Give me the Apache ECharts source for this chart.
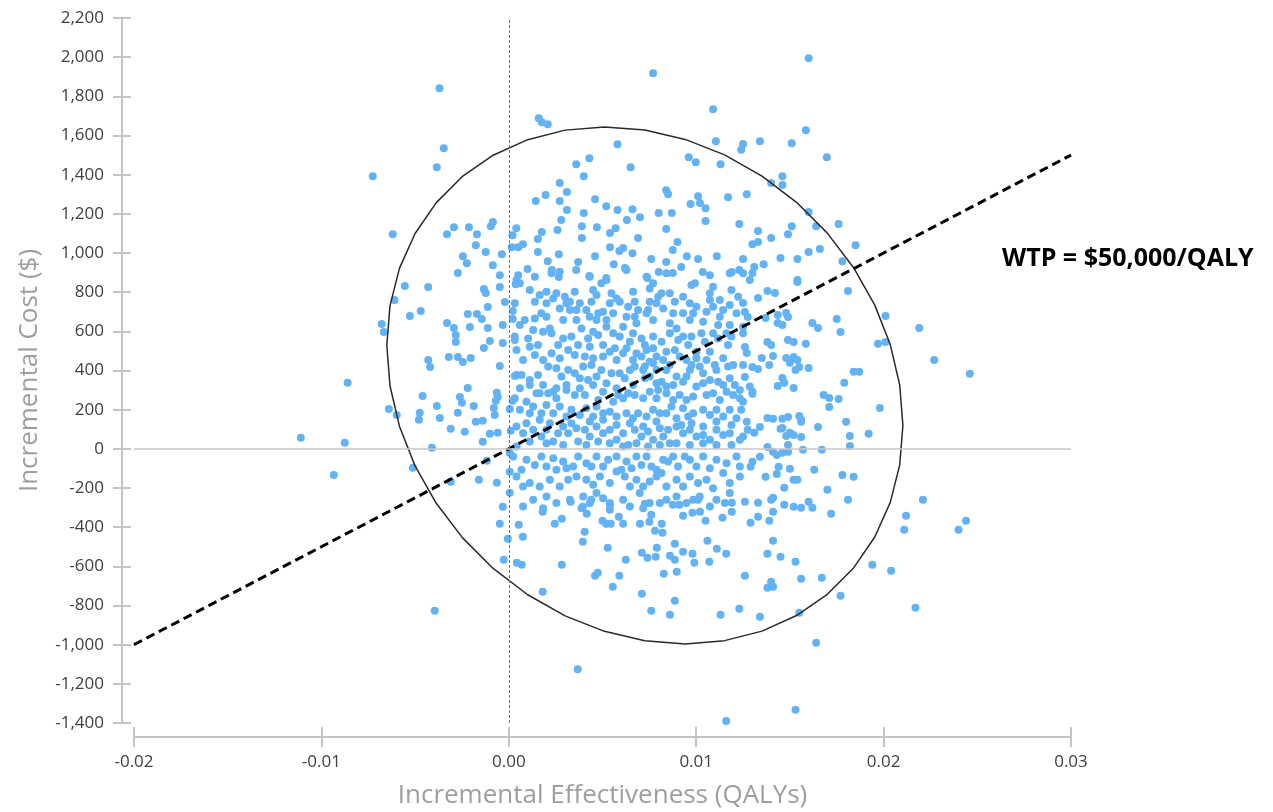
<!DOCTYPE html>
<html>
<head>
<meta charset="utf-8">
<title>Cost-effectiveness plane</title>
<script src="https://cdn.jsdelivr.net/npm/echarts@6/dist/echarts.min.js"></script>
<style>
    html, body { margin: 0; padding: 0; background: #fff; }
    #chart { width: 1273px; height: 812px; }
</style>
</head>
<body>
<div id="chart"></div>
<script>
// Axis ranges and ticks
var effMin = -0.02, effMax = 0.03, effStep = 0.01;
var costMin = -1400, costMax = 2200, costStep = 200;

// Willingness-to-pay line ends [effectiveness, cost]
var wtpLine = [[-0.02, -1000], [0.03, 1500]];
var wtpLabel = 'WTP = $50,000/QALY';

// Confidence ellipse: centre, half-widths, correlation
var ellipseCenter = [0.00726, 324];
var ellipseRadius = [0.01377, 1320];
var ellipseCorr = -0.155;
var ellipseSteps = 40;

// Simulated pairs [incremental effectiveness, incremental cost], by region
var upperPoints = [
    [0.0160, 1994], [0.0077, 1918], [-0.0037, 1841], [0.0109, 1734], [0.0016, 1688], [0.00176, 1668],
    [0.00208, 1658], [0.01585, 1627], [0.0134, 1571], [0.0125, 1556], [0.0124, 1527], [0.0151, 1561],
    [0.01697, 1489], [0.01105, 1571], [0.0096, 1489], [0.00998, 1464], [0.0113, 1453], [0.0058, 1555],
    [0.0043, 1484], [0.0036, 1453], [0.0040, 1392], [0.0065, 1438], [0.00272, 1357], [0.0031, 1311],
    [0.00197, 1296], [0.00144, 1265], [0.00272, 1265], [0.0031, 1219], [0.0046, 1275], [0.0052, 1239],
    [0.0058, 1219], [0.0066, 1224], [0.0070, 1183], [0.0040, 1204], [0.0084, 1321], [0.0085, 1300],
    [0.0080, 1204], [0.0087, 1204], [0.0097, 1250], [0.0101, 1290], [0.0102, 1255], [0.0105, 1229],
    [0.0105, 1163], [0.0117, 1285], [0.0127, 1300], [0.0123, 1148], [0.0028, 1168], [0.0026, 1117],
    [0.0039, 1137], [0.0047, 1132], [0.0054, 1102], [0.0057, 1127], [0.0063, 1168], [0.0069, 1076],
    [0.0039, 1076], [0.0004, 1127], [0.0002, 1091], [0.00176, 1107], [0.00155, 1071], [0.00075, 1045],
    [0.00155, 1005], [0.00267, 994], [0.00208, 958], [0.0010, 918], [0.0005, 887], [0.0023, 913],
    [0.0037, 954], [0.0036, 913], [0.0046, 984], [0.0054, 1030], [0.0059, 1010], [0.0061, 1025],
    [0.0066, 999], [0.0056, 943], [0.0062, 923], [0.0076, 969], [0.00875, 1015], [0.0090, 1056],
    [0.0084, 1122], [0.0095, 984], [0.0101, 969], [0.0111, 984], [0.0125, 969], [0.0123, 913],
    [0.0119, 903], [0.01035, 903], [0.0092, 928], [0.0084, 954], [0.0080, 903], [0.00875, 898],
    [0.0074, 872], [0.0043, 882], [0.0052, 872], [0.00267, 877],
    [0.0146, 1392], [0.0140, 1357], [0.0146, 1347], [0.0160, 1209], [0.0151, 1137], [0.0164, 1137],
    [0.0176, 1148], [0.0133, 1112], [0.0149, 1096], [0.0140, 1076], [0.0133, 1056], [0.0130, 1045],
    [0.0185, 1040], [0.0166, 1020], [0.0160, 1005], [0.0145, 974], [0.0154, 969], [0.0136, 943],
    [0.0131, 928], [0.0178, 958], [0.0154, 862], [0.0130, 898]
];

var leftPoints = [
    [-0.00347, 1535], [-0.00384, 1438], [-0.00726, 1392], [-0.00619, 1096], [-0.00293, 1132], [-0.00213, 1132],
    [-0.0033, 1096], [-0.0017, 1096], [-0.00085, 1158], [-0.00096, 1137], [-0.00176, 1040], [-0.00123, 1005],
    [-0.00245, 984], [-0.00224, 948], [-0.00085, 938], [-0.00037, 994], [-0.00272, 898], [-0.00048, 887],
    [0.00016, 1030], [0.0005, 1030], [0.00037, 841], [-0.00555, 831], [-0.0043, 826], [-0.0061, 760],
    [-0.00133, 816], [-0.00123, 796], [-0.00048, 826], [-0.00021, 750], [-0.00528, 678], [-0.0047, 704],
    [-0.00678, 638], [-0.00667, 597], [-0.0033, 643], [-0.00293, 617], [-0.00283, 581], [-0.00283, 546],
    [-0.00219, 689], [-0.0017, 689], [-0.00144, 663], [-0.00208, 622], [-0.00112, 724], [-0.00112, 617],
    [-0.00101, 551], [-0.00133, 515], [-0.00032, 632], [0.00021, 663], [0.00021, 704], [-0.00032, 541],
    [0.00032, 556], [-0.0043, 454], [-0.0042, 418], [-0.0032, 469], [-0.00272, 469], [-0.00245, 444],
    [-0.00203, 464], [-0.00048, 423], [0.00032, 372], [-0.0086, 337], [-0.00219, 311], [-0.00261, 265],
    [-0.0025, 235], [-0.0046, 270], [-0.00384, 219], [-0.00187, 219], [-0.00064, 286], [-0.00059, 265],
    [-0.00069, 245], [-0.0008, 209], [-0.00075, 173], [0.00021, 245], [0.00005, 204], [-0.0064, 204],
    [-0.00598, 173], [-0.00475, 184], [-0.0048, 148], [-0.00368, 158], [-0.00272, 184], [-0.0031, 102],
    [-0.00235, 87], [-0.00176, 138], [-0.00139, 143], [-0.00101, 77], [-0.00059, 82], [-0.00139, 36],
    [0.0001, 92], [-0.0111, 56], [-0.00875, 31], [-0.0041, 5], [-0.00934, -133], [-0.00512, -97],
    [-0.00117, -61], [-0.0016, -158], [-0.00064, -173], [-0.0031, -168], [0.00005, -20], [0.00005, -117],
    [0.00005, -224], [-0.00032, -296], [-0.00048, -383], [-0.00005, -459], [-0.00027, -566], [0.00043, -582],
    [0.00053, -388], [-0.00395, -827]
];

var lowerPoints = [
    [0.00181, -321], [0.0033, -270], [0.00395, -296], [0.00416, -332], [0.0044, -260], [0.0054, -286],
    [0.00075, -449], [0.00245, -383], [0.00283, -357], [0.00405, -423], [0.00395, -474], [0.0050, -367],
    [0.0052, -383], [0.00544, -383], [0.00587, -347], [0.0061, -383], [0.00528, -505], [0.0070, -383],
    [0.00726, -281], [0.0076, -337], [0.0075, -372], [0.0078, -418], [0.00816, -383], [0.0082, -429],
    [0.0071, -530], [0.0074, -556], [0.0079, -505], [0.00784, -551], [0.0086, -546], [0.00886, -485],
    [0.00886, -566], [0.0093, -525], [0.0098, -536], [0.0099, -582], [0.0107, -576], [0.0111, -510],
    [0.0116, -536], [0.0106, -469], [0.00875, -286], [0.0091, -286], [0.0093, -342], [0.0098, -327],
    [0.0102, -321], [0.0105, -367], [0.0101, -260], [0.0114, -352], [0.0119, -321], [0.0119, -275],
    [0.00069, -592], [0.00283, -592], [0.00181, -730], [0.0046, -648], [0.00475, -633], [0.00555, -704],
    [0.0059, -648], [0.00624, -566], [0.0071, -740], [0.00827, -638], [0.00896, -628], [0.0076, -827],
    [0.0086, -847], [0.00886, -776], [0.0113, -847], [0.0123, -816], [0.0126, -648], [0.00368, -1125],
    [0.0116, -1390], [0.0126, -270], [0.0133, -275], [0.0140, -260], [0.0147, -286], [0.0152, -296],
    [0.0156, -301], [0.0160, -270], [0.0162, -301], [0.0141, -321], [0.0133, -347], [0.0129, -378],
    [0.0139, -367], [0.0172, -332], [0.0181, -260], [0.0221, -260], [0.0212, -342], [0.0211, -413],
    [0.0244, -367], [0.0240, -413], [0.0141, -469], [0.0138, -536], [0.0145, -551], [0.0153, -576],
    [0.0138, -709], [0.0140, -679], [0.0141, -704], [0.0156, -663], [0.0167, -658], [0.0194, -592],
    [0.0204, -622], [0.0177, -750], [0.0217, -811], [0.0134, -857], [0.0155, -837], [0.0164, -990],
    [0.0153, -1332]
];

var rightPoints = [
    [0.0154, 852], [0.0181, 806], [0.0201, 678], [0.0219, 617], [0.0227, 454], [0.0246, 383],
    [0.0175, 663], [0.0177, 597], [0.0197, 536], [0.0201, 546], [0.0162, 643], [0.0165, 617],
    [0.01585, 536], [0.0184, 393], [0.0187, 393], [0.0179, 337], [0.0168, 275], [0.0171, 260],
    [0.0176, 255], [0.0171, 214], [0.0198, 209], [0.0180, 138], [0.0165, 112], [0.0182, 66],
    [0.0192, 77], [0.0182, 15], [0.0167, -5], [0.0163, -107], [0.0178, -133], [0.0184, -143],
    [0.0170, -209], [0.0156, 61], [0.0155, 168], [0.0156, 148], [0.0149, 163], [0.0146, 153],
    [0.0141, 153], [0.0138, 158], [0.0152, 71], [0.0148, 66], [0.0145, 102], [0.0138, 10],
    [0.0157, -5], [0.0149, -15], [0.0146, -20], [0.0143, -31], [0.0134, 112], [0.01275, 97],
    [0.0131, 82], [0.0127, 138], [0.0150, -102], [0.0144, -92], [0.0143, -128], [0.0152, -158],
    [0.0154, -158], [0.0147, -199], [0.0141, -250], [0.0137, -143], [0.0129, -92], [0.0130, -66],
    [0.0134, -41], [0.0141, -15], [0.0149, 20], [0.0138, 806], [0.0142, 796], [0.0133, 770],
    [0.0125, 745], [0.0126, 699], [0.01275, 673], [0.0137, 668], [0.01435, 684], [0.0148, 694],
    [0.0149, 673], [0.01435, 643], [0.0146, 632], [0.0138, 546], [0.0140, 530], [0.0149, 556],
    [0.0152, 546], [0.0126, 520], [0.0127, 490], [0.0135, 464], [0.0141, 474], [0.0148, 464],
    [0.0152, 469], [0.0154, 454], [0.0150, 439], [0.0153, 403], [0.0155, 418], [0.0160, 413],
    [0.0130, 418], [0.0133, 408], [0.0139, 428], [0.0125, 428], [0.0126, 367], [0.0146, 362],
    [0.0147, 337], [0.0152, 311], [0.01435, 321], [0.0130, 291], [0.0130, 281], [0.0124, 199],
    [0.0146, 107], [0.0150, 82], [0.0156, 138]
];

var corePoints = [
    [0.00041, 862], [0.00059, 845], [0.00139, 879], [0.00228, 896], [0.00272, 904], [0.00432, 879],
    [0.00494, 845], [0.00521, 862], [0.00628, 913], [0.00735, 879], [0.0077, 845], [0.00841, 896],
    [0.00993, 845], [0.01073, 887], [0.01179, 896], [0.0125, 896], [0.01286, 862], [0.00112, 811],
    [0.00201, 802], [0.00254, 794], [0.00299, 777], [0.00352, 802], [0.0045, 811], [0.00548, 794],
    [0.00663, 802], [0.00752, 819], [0.00815, 794], [0.00975, 836], [0.0109, 828], [0.01073, 794],
    [0.01188, 811], [0.00032, 743], [0.00139, 751], [0.00201, 743], [0.00326, 751], [0.00379, 743],
    [0.00441, 751], [0.00468, 785], [0.00592, 751], [0.00672, 751], [0.00788, 743], [0.00743, 709],
    [0.00886, 751], [0.00966, 743], [0.01073, 760], [0.01126, 760], [0.01224, 777], [0.00272, 717],
    [0.00326, 709], [0.00414, 709], [0.00503, 700], [0.00557, 692], [0.00628, 675], [0.00672, 675],
    [0.00735, 692], [0.00824, 717], [0.00877, 692], [0.0093, 692], [0.00984, 692], [0.01055, 700],
    [0.01126, 675], [0.01179, 734], [0.00085, 658], [0.00139, 666], [0.00201, 675], [0.0029, 658],
    [0.00361, 658], [0.00468, 658], [0.00521, 658], [0.0061, 624], [0.00681, 641], [0.0077, 658],
    [0.00859, 641], [0.00895, 615], [0.00966, 658], [0.01037, 649], [0.01117, 632], [0.01179, 632],
    [0.0125, 624], [0.00032, 573], [0.00103, 564], [0.00183, 598], [0.00219, 615], [0.00334, 573],
    [0.00423, 564], [0.00477, 581], [0.00557, 590], [0.00646, 547], [0.00708, 564], [0.0077, 573],
    [0.00859, 590], [0.0093, 573], [0.01028, 590], [0.0109, 590], [0.01162, 590], [0.0125, 590],
    [0.00041, 505], [0.00112, 521], [0.00156, 530], [0.00263, 530], [0.0037, 530], [0.00432, 521],
    [0.00503, 530], [0.00566, 513], [0.00628, 513], [0.00681, 488], [0.00735, 505], [0.00788, 471],
    [0.00886, 505], [0.00957, 530], [0.01001, 496], [0.01073, 496], [0.0117, 530], [0.00183, 454],
    [0.00272, 462], [0.00352, 479], [0.0045, 462], [0.00503, 471], [0.00575, 454], [0.00663, 454],
    [0.00752, 445], [0.00824, 454], [0.00948, 454], [0.01001, 462], [0.01055, 454], [0.01144, 462],
    [0.01197, 428], [0.00041, 377], [0.00068, 377], [0.00112, 352], [0.0021, 420], [0.00254, 411],
    [0.00317, 403], [0.00397, 420], [0.00441, 428], [0.00494, 403], [0.00548, 386], [0.00619, 360],
    [0.00672, 420], [0.00717, 403], [0.00788, 403], [0.00841, 403], [0.00895, 369], [0.00966, 403],
    [0.01037, 386], [0.01108, 403], [0.01179, 360], [0.00112, 326], [0.00183, 326], [0.00254, 309],
    [0.00308, 326], [0.00379, 360], [0.00423, 352], [0.0045, 326], [0.00521, 335], [0.00575, 309],
    [0.00663, 326], [0.00726, 360], [0.00788, 335], [0.00841, 318], [0.0093, 343], [0.01001, 318],
    [0.01073, 352], [0.01144, 326], [0.01233, 301], [0.01286, 318], [0.00032, 258], [0.00094, 241],
    [0.00148, 284], [0.0021, 284], [0.00254, 258], [0.00308, 301], [0.00352, 275], [0.00406, 275],
    [0.00477, 250], [0.00557, 241], [0.0061, 258], [0.00672, 275], [0.00717, 258], [0.00788, 258],
    [0.00841, 284], [0.00912, 275], [0.00984, 267], [0.01055, 275], [0.01126, 250], [0.01197, 275],
    [0.0125, 241], [0.00059, 199], [0.0013, 216], [0.00201, 224], [0.00272, 216], [0.00334, 199],
    [0.00414, 207], [0.00468, 216], [0.00539, 190], [0.00628, 182], [0.0069, 182], [0.00735, 165],
    [0.00806, 182], [0.00868, 216], [0.0093, 207], [0.00984, 182], [0.01037, 199], [0.01108, 199],
    [0.01179, 199], [0.00041, 114], [0.00094, 131], [0.00165, 148], [0.00219, 131], [0.0029, 114],
    [0.00361, 105], [0.00432, 139], [0.00503, 148], [0.00575, 122], [0.00646, 131], [0.00717, 114],
    [0.00788, 139], [0.0085, 97], [0.00921, 122], [0.00975, 131], [0.01037, 114], [0.01108, 139],
    [0.01188, 122], [0.00076, 80], [0.00174, 63], [0.00237, 37], [0.00317, 80], [0.0037, 37],
    [0.00432, 63], [0.00503, 80], [0.00575, 46], [0.00637, 20], [0.00708, 63], [0.0077, 46],
    [0.00824, 63], [0.00859, 29], [0.0093, 80], [0.01001, 63], [0.01073, 46], [0.01144, 71],
    [0.01233, 46], [0.00041, 12], [0.00023, -39], [0.00068, -107], [0.00174, -39], [0.00201, -90],
    [0.00254, -107], [0.00308, -99], [0.0037, -39], [0.00414, -73], [0.00468, -39], [0.00503, -90],
    [0.00575, -39], [0.00628, -65], [0.00681, -39], [0.00735, -39], [0.00761, -90], [0.00824, -56],
    [0.00877, -39], [0.00966, -56], [0.01037, -39], [0.01108, -56], [0.01215, -39], [0.00041, -141],
    [0.00112, -175], [0.00165, -192], [0.00219, -158], [0.00361, -141], [0.00414, -158], [0.00486, -141],
    [0.00539, -175], [0.00619, -141], [0.00681, -158], [0.00717, -192], [0.00788, -141], [0.00841, -192],
    [0.00895, -158], [0.00966, -141], [0.01055, -158], [0.01144, -124], [0.01233, -141], [0.00201, -243],
    [0.00326, -260], [0.00397, -243], [0.00468, -226], [0.00539, -277], [0.0061, -260], [0.00699, -226],
    [0.00752, -277], [0.00841, -260], [0.00895, -243], [0.00948, -277], [0.01019, -243], [0.01108, -260],
    [0.01179, -226], [0.00076, -294], [0.00183, -303], [0.00388, -303], [0.00539, -311], [0.00717, -303]
];

// Extra points in the densest part of the cloud (overlapping dots)
var denseCorePoints = [
    [0.00165, 785], [0.00237, 768], [0.00308, 743], [0.00361, 709], [0.00174, 692], [0.00432, 675],
    [0.00477, 692], [0.00539, 743], [0.00575, 768], [0.00637, 726], [0.0069, 709], [0.00752, 751],
    [0.00797, 777], [0.00859, 794], [0.0093, 777], [0.01001, 726], [0.0109, 726], [0.01144, 709],
    [0.01215, 692], [0.00059, 632], [0.0013, 607], [0.00228, 590], [0.0029, 564], [0.00388, 615],
    [0.0045, 598], [0.00521, 624], [0.00592, 573], [0.00663, 590], [0.00726, 530], [0.0077, 513],
    [0.00815, 547], [0.00841, 496], [0.00904, 556], [0.00975, 573], [0.01046, 547], [0.01117, 564],
    [0.01188, 573], [0.00076, 454], [0.00139, 479], [0.00228, 488], [0.00317, 505], [0.00406, 471],
    [0.00539, 496], [0.0061, 488], [0.00708, 471], [0.00726, 420], [0.0077, 437], [0.00859, 428],
    [0.00912, 471], [0.00975, 428], [0.01019, 420], [0.01099, 428], [0.0117, 420], [0.00156, 377],
    [0.00281, 369], [0.00352, 386], [0.00468, 369], [0.00592, 386], [0.00646, 403], [0.00752, 369],
    [0.00815, 343], [0.00877, 326], [0.00948, 369], [0.01037, 335], [0.01117, 343], [0.01206, 326],
    [0.00059, 309], [0.00165, 284], [0.00237, 292], [0.00379, 309], [0.00503, 292], [0.00584, 275],
    [0.00637, 284], [0.00752, 292], [0.00797, 301], [0.00877, 250], [0.00948, 250], [0.0109, 284],
    [0.01162, 292], [0.01233, 258], [0.00112, 182], [0.00174, 182], [0.00237, 182], [0.00308, 165],
    [0.00379, 173], [0.0045, 165], [0.00503, 182], [0.00575, 165], [0.00663, 156], [0.0077, 199],
    [0.00841, 182], [0.00895, 156], [0.00957, 165], [0.01073, 173], [0.01144, 165], [0.01215, 156],
    [0.0013, 97], [0.00201, 97], [0.00263, 80], [0.00334, 131], [0.00406, 97], [0.00468, 114],
    [0.00539, 97], [0.0061, 80], [0.00672, 97], [0.00743, 88], [0.00806, 105], [0.00895, 114],
    [0.00966, 97], [0.01037, 71], [0.01108, 97], [0.01179, 80], [0.0125, 63], [0.00112, 37],
    [0.00201, 29], [0.0029, 20], [0.00414, 20], [0.00477, 37], [0.00539, 29], [0.0061, 12],
    [0.00681, 29], [0.00743, 12], [0.00806, 20], [0.00895, 29], [0.00966, 20], [0.01037, 29],
    [0.01108, 20], [0.01188, 20], [0.00094, -56], [0.00139, -82], [0.00237, -48], [0.0029, -65],
    [0.00343, -90], [0.00441, -90], [0.0053, -56], [0.00601, -107], [0.00655, -99], [0.00708, -82],
    [0.00788, -107], [0.0085, -65], [0.00903, -90], [0.00939, -39], [0.01001, -90], [0.01073, -99],
    [0.01162, -73], [0.01233, -90], [0.00076, -192], [0.00272, -192], [0.00317, -158], [0.0045, -184],
    [0.00575, -116], [0.00646, -192], [0.00752, -167], [0.00815, -124], [0.0093, -192], [0.0101, -175],
    [0.0109, -201], [0.01179, -175], [0.0013, -260], [0.00254, -277], [0.00432, -277], [0.00503, -252],
    [0.00646, -294], [0.00806, -277], [0.00984, -260], [0.01073, -294], [0.01153, -277]
];

var allPoints = upperPoints.concat(leftPoints, lowerPoints, rightPoints, corePoints, denseCorePoints);

// Build the ellipse outline from its centre, radii and correlation
function buildEllipse() {
    var pts = [];
    var s = Math.sqrt(1 - ellipseCorr * ellipseCorr);
    for (var i = 0; i <= ellipseSteps; i++) {
        var t = (i / ellipseSteps) * Math.PI * 2;
        var x = ellipseCenter[0] + ellipseRadius[0] * Math.cos(t);
        var y = ellipseCenter[1] + ellipseRadius[1] * (ellipseCorr * Math.cos(t) + s * Math.sin(t));
        pts.push([x, y]);
    }
    return pts;
}

var axisGray = '#c4c4c4';
var labelFont = 'Open Sans';

// Shared settings for the two axes on each side (outer ticks + inner ticks)
function effAxis(inside) {
    return {
        type: 'value',
        position: 'bottom',
        min: effMin,
        max: effMax,
        interval: effStep,
        offset: 14,
        axisLine: { show: !inside, onZero: false, lineStyle: { color: axisGray, width: 2 } },
        axisTick: { show: true, inside: inside, length: 10, lineStyle: { color: axisGray, width: 2 } },
        splitLine: { show: false },
        axisLabel: {
            show: !inside,
            color: '#404040',
            fontFamily: labelFont,
            fontSize: 17,
            margin: 17,
            formatter: function(v) { return v.toFixed(2); }
        },
        name: inside ? '' : 'Incremental Effectiveness (QALYs)',
        nameLocation: 'middle',
        nameGap: 46,
        nameTextStyle: { color: '#9e9e9e', fontFamily: labelFont, fontSize: 26 }
    };
}

function costAxis(inside) {
    return {
        type: 'value',
        position: 'left',
        min: costMin,
        max: costMax,
        interval: costStep,
        offset: 12,
        axisLine: { show: !inside, onZero: false, lineStyle: { color: axisGray, width: 2 } },
        axisTick: { show: true, inside: inside, length: 9, lineStyle: { color: axisGray, width: 2 } },
        splitLine: { show: false },
        axisLabel: {
            show: !inside,
            color: '#404040',
            fontFamily: labelFont,
            fontSize: 17,
            margin: 18,
            formatter: function(v) { return v.toLocaleString('en-US'); }
        },
        name: inside ? '' : 'Incremental Cost ($)',
        nameLocation: 'middle',
        nameGap: 79,
        nameRotate: 90,
        nameTextStyle: { color: '#9e9e9e', fontFamily: labelFont, fontSize: 26 }
    };
}

var chart = echarts.init(document.getElementById('chart'), null, { renderer: 'canvas' });
chart.setOption({
    animation: false,
    backgroundColor: '#ffffff',
    grid: { left: 134, right: 202, top: 18, bottom: 89, outerBoundsMode: 'none' },
    xAxis: [effAxis(false), effAxis(true)],
    yAxis: [costAxis(false), costAxis(true)],
    graphic: [{
        type: 'text',
        left: 1002,
        top: 246,
        style: {
            text: wtpLabel,
            fill: '#000',
            font: 'bold 25px "Open Sans"'
        }
    }],
    series: [
        {
            // zero reference lines
            type: 'line',
            data: [],
            z: 1,
            silent: true,
            markLine: {
                silent: true,
                symbol: ['none', 'none'],
                label: { show: false },
                data: [
                    { yAxis: 0, lineStyle: { color: '#c8c8c8', width: 1.5, type: 'solid' } },
                    { xAxis: 0, lineStyle: { color: '#707070', width: 1, type: [3, 2] } }
                ]
            }
        },
        {
            name: 'Simulations',
            type: 'scatter',
            data: allPoints,
            symbolSize: 8,
            itemStyle: { color: '#63b3f4', opacity: 1 },
            z: 2
        },
        {
            name: 'Ellipse',
            type: 'line',
            data: buildEllipse(),
            showSymbol: false,
            smooth: false,
            lineStyle: { color: '#2a2a2a', width: 1.5 },
            z: 3
        },
        {
            name: 'WTP',
            type: 'line',
            data: wtpLine,
            showSymbol: false,
            lineStyle: { color: '#000', width: 3, type: [9, 5] },
            z: 4
        }
    ]
});
</script>
</body>
</html>
